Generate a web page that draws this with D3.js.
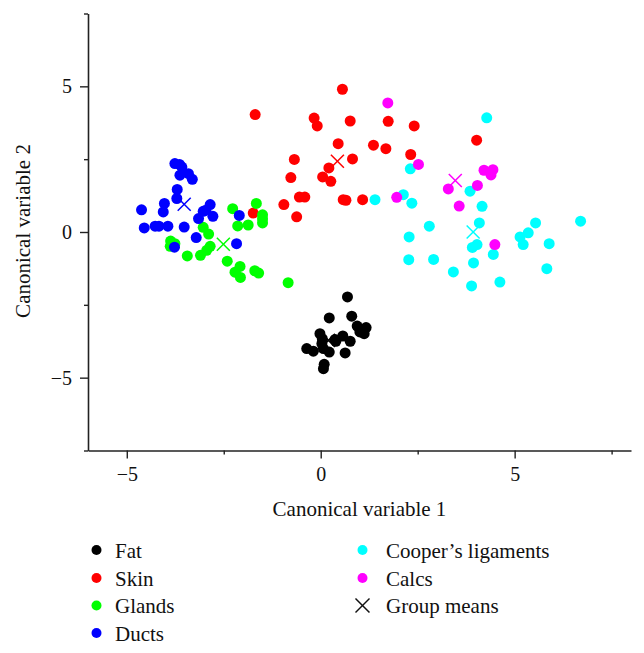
<!DOCTYPE html>
<html>
<head>
<meta charset="utf-8">
<script src="https://cdn.jsdelivr.net/npm/d3@7"></script>
<style>
  html, body { margin: 0; padding: 0; background: #fff; }
  svg { display: block; }
  text { font-family: "Liberation Serif", "DejaVu Serif", serif; fill: #111; }
</style>
</head>
<body>
<svg id="chart" width="644" height="653"></svg>
<script>
// ---------- data ----------
const groups = ["Fat", "Skin", "Glands", "Ducts", "Cooper\u2019s ligaments", "Calcs"];
const groupColors = ["#000000", "#ff0000", "#00ff00", "#0000ff", "#00ffff", "#ff00ff"];

const fatX = [0.69, 0.22, 0.80, 0.94, 1.17, 1.12, 1.01, -0.02, 0.04, 0.39, 0.57, 0.76, -0.36, -0.19, 0.03, 0.07, 0.22, 0.63, 0.09, 0.07, 0.37];
const fatY = [-2.23, -2.95, -2.89, -3.23, -3.28, -3.49, -3.43, -3.49, -3.66, -3.75, -3.57, -3.75, -4.00, -4.09, -3.83, -4.00, -4.12, -4.15, -4.54, -4.69, -3.69];

const skinX = [0.56, -1.69, -0.17, -0.09, 0.76, 1.74, 2.41, 0.45, 1.36, 1.68, 2.32, -0.68, 0.82, 0.21, -0.77, 0.05, 0.26, -0.55, -0.41, 0.58, 0.65, 1.08, -0.95, -1.74, -0.62, 4.02];
const skinY = [4.90, 4.03, 3.91, 3.64, 3.81, 3.80, 3.64, 3.03, 2.98, 2.86, 2.66, 2.49, 2.51, 2.20, 1.87, 1.89, 1.74, 1.20, 1.20, 1.11, 1.09, 1.11, 0.94, 0.65, 0.52, 3.15];

const glandsX = [-2.27, -1.66, -1.50, -1.50, -1.50, -2.14, -1.87, -3.03, -2.89, -2.85, -2.94, -3.10, -3.44, -2.41, -2.08, -2.21, -2.07, -1.70, -1.60, -0.84, -3.87, -3.88, -3.76];
const glandsY = [0.80, 0.98, 0.59, 0.45, 0.31, 0.21, 0.24, 0.16, -0.07, -0.49, -0.63, -0.80, -0.82, -1.00, -1.18, -1.38, -1.56, -1.33, -1.41, -1.74, -0.31, -0.49, -0.40];

const ductsX = [-3.76, -3.64, -3.58, -3.63, -3.41, -3.31, -3.70, -3.71, -4.03, -4.06, -4.62, -4.55, -4.27, -4.17, -3.94, -3.52, -2.96, -2.85, -3.03, -2.78, -3.15, -3.21, -3.77, -2.10, -2.17];
const ductsY = [2.35, 2.32, 2.23, 1.95, 2.00, 1.81, 1.46, 1.15, 0.98, 0.69, 0.76, 0.14, 0.20, 0.20, 0.20, 0.17, 0.75, 0.94, 0.71, 0.54, 0.46, -0.19, -0.52, 0.57, -0.40];

const cooperX = [4.28, 2.31, 1.40, 2.13, 2.35, 3.85, 4.16, 4.09, 2.80, 2.28, 3.91, 4.03, 4.45, 2.27, 2.91, 3.94, 3.42, 3.89, 4.62, 5.54, 5.35, 5.14, 5.22, 5.89, 5.83, 6.70];
const cooperY = [3.92, 2.17, 1.11, 1.28, 0.99, 1.40, 0.88, 0.31, 0.20, -0.17, -0.53, -0.43, -0.77, -0.95, -0.94, -1.06, -1.37, -1.85, -1.72, 0.31, -0.03, -0.17, -0.43, -0.40, -1.26, 0.37];

const calcsX = [1.73, 2.52, 3.29, 4.04, 3.57, 1.96, 4.21, 4.44, 4.39, 4.49];
const calcsY = [4.43, 2.32, 1.48, 1.60, 0.89, 1.19, 2.12, 2.14, 1.96, -0.43];

const meanX = [0.20, 0.43, -2.51, -3.52, 3.93, 3.47];
const meanY = [-3.72, 2.43, -0.42, 0.95, 0.00, 1.77];

const xTicks = [-5, -2.5, 0, 2.5, 5, 7.5];
const yTicks = [-7.5, -5, -2.5, 0, 2.5, 5, 7.5];
const xDomain = [-6, 8];
const yDomain = [-7.5, 7.5];
const xLabel = "Canonical variable 1";
const yLabel = "Canonical variable 2";
const meansLabel = "Group means";

const seriesX = [fatX, skinX, glandsX, ductsX, cooperX, calcsX];
const seriesY = [fatY, skinY, glandsY, ductsY, cooperY, calcsY];

// ---------- chart ----------
const svg = d3.select("#chart");
const x = d3.scaleLinear().domain(xDomain).range([88, 631]);
const y = d3.scaleLinear().domain(yDomain).range([450.5, 13.5]);
const fmt = v => (v % 5 === 0 ? d3.format("")(v) : "");

const axisColor = "#222";

const gx = svg.append("g").attr("transform", `translate(0,${y(yDomain[0])})`)
  .call(d3.axisBottom(x).tickValues(xTicks).tickFormat(fmt).tickSizeOuter(0).tickSizeInner(8).tickPadding(8));
const gy = svg.append("g").attr("transform", `translate(${x(xDomain[0])},0)`)
  .call(d3.axisLeft(y).tickValues(yTicks).tickFormat(fmt).tickSizeOuter(0).tickSizeInner(8).tickPadding(8));

[gx, gy].forEach(g => {
  g.select(".domain").attr("stroke", axisColor).attr("stroke-width", 1.6);
  g.selectAll(".tick line").attr("stroke", axisColor).attr("stroke-width", 1.4)
    .each(function(d) {
      if (d % 5 !== 0) {
        const l = d3.select(this);
        if (l.attr("y2")) l.attr("y2", 4);
        if (l.attr("x2")) l.attr("x2", -4);
      }
    });
  g.selectAll(".tick text").attr("font-family", "Liberation Serif, serif").attr("font-size", 20).attr("fill", "#111");
});

svg.append("text").attr("x", 359.5).attr("y", 516).attr("text-anchor", "middle")
  .attr("font-size", 21).text(xLabel);
svg.append("text").attr("transform", "translate(30,231) rotate(-90)").attr("text-anchor", "middle")
  .attr("font-size", 21).text(yLabel);

// points
const plot = svg.append("g");
groups.forEach((g, i) => {
  const pts = seriesX[i].map((v, j) => [v, seriesY[i][j]]);
  plot.append("g").selectAll("circle").data(pts).join("circle")
    .attr("cx", d => x(d[0])).attr("cy", d => y(d[1])).attr("r", 5.5)
    .attr("fill", groupColors[i]);
});

// group means
const cross = (sel, cx, cy, s, color, w) => {
  sel.append("line").attr("x1", cx - s).attr("y1", cy - s).attr("x2", cx + s).attr("y2", cy + s)
    .attr("stroke", color).attr("stroke-width", w);
  sel.append("line").attr("x1", cx - s).attr("y1", cy + s).attr("x2", cx + s).attr("y2", cy - s)
    .attr("stroke", color).attr("stroke-width", w);
};
const meanG = svg.append("g");
meanX.forEach((mx, i) => {
  cross(meanG, x(mx), y(meanY[i]), 6.5, groupColors[i], 1.5);
});

// legend
const leg = svg.append("g");
const legRows = [550, 578, 605.5, 633];
groups.forEach((g, i) => {
  const col = i < 4 ? 0 : 1;
  const row = i < 4 ? i : i - 4;
  const cx = col === 0 ? 96.5 : 362.5;
  const tx = col === 0 ? 115 : 386;
  const ty = legRows[row];
  leg.append("circle").attr("cx", cx).attr("cy", ty).attr("r", 5).attr("fill", groupColors[i]);
  leg.append("text").attr("x", tx).attr("y", ty + 7.5).attr("font-size", 21).text(g);
});
cross(leg, 362.5, legRows[2], 7, "#111", 1.5);
leg.append("text").attr("x", 386).attr("y", legRows[2] + 7.5).attr("font-size", 21).text(meansLabel);
</script>
</body>
</html>
